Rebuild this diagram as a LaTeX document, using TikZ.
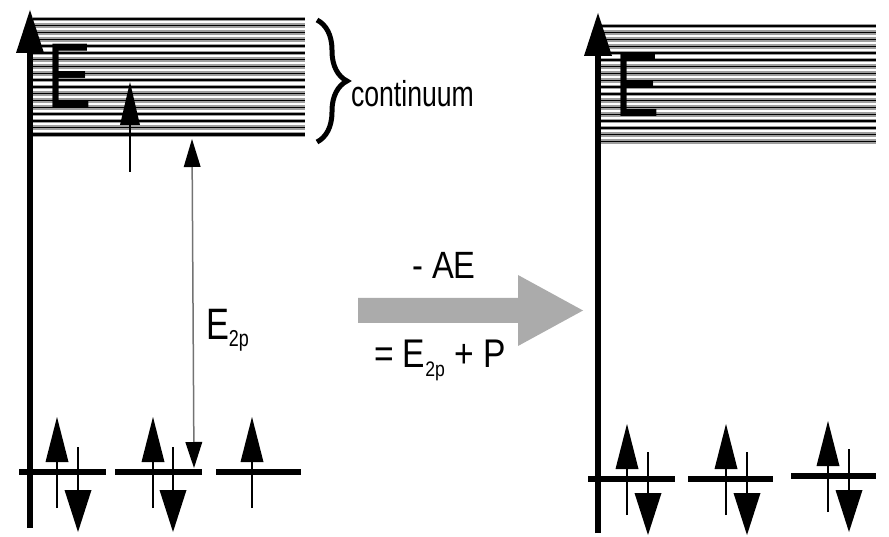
\documentclass[tikz,border=0pt]{standalone}
\usepackage{fontspec}
\usepackage{graphicx}
\setmainfont{Liberation Sans}
\usetikzlibrary{arrows.meta,decorations.pathreplacing}
\tikzset{
  axisline/.style={line width=6pt,-{Triangle[width=28pt,length=43pt,line width=0pt]}},
  levelbar/.style={line width=6pt},
  spinup/.style={line width=2pt,-{Triangle[width=23pt,length=45pt,line width=0pt]}},
  spindown/.style={line width=2pt,-{Triangle[width=27pt,length=42pt,line width=0pt]}},
  bandline/.style={line width=4.6pt,color=black!38},
  bandcore/.style={line width=1.4pt,color=black},
  thinarrow/.style={line width=2pt,-{Triangle[width=20pt,length=43pt,line width=0pt]}},
  gaparrow/.style={line width=1.5pt,draw=black!55,{Triangle[width=17pt,length=28pt,line width=0pt,color=black]}-{Triangle[width=17pt,length=26pt,line width=0pt,color=black]}},
  txt/.style={inner sep=0pt,outer sep=0pt,anchor=base west},
  bigE/.style={inner sep=0pt,outer sep=0pt,anchor=base west,font=\fontsize{92}{92}\selectfont},
}
\begin{document}
\begin{tikzpicture}[x=1pt,y=-1pt]
\useasboundingbox (0,0) rectangle (889,537);

% ---------------- left panel ----------------
\foreach \i in {0,...,17}{
  \draw[bandline] (33,{19+\i*6.8}) -- (305,{19+\i*6.8});
}
\foreach \i in {0,...,17}{
  \draw[bandcore] (33,{19+\i*6.8}) -- (305,{19+\i*6.8});
}
\draw[line width=3pt] (33,135) -- (305,135);
\node[bigE] (Eleft) at (47,108) {\scalebox{0.72}[1]{E}};

\coordinate (axLb) at (30,528);
\coordinate (axLt) at (30,10);
\draw[axisline] (axLb) -- (axLt);

% brace + label
\draw[line width=5pt,decorate,decoration={brace,amplitude=30pt}] (317,20) -- (317,142);
\node[txt] (cont) at (351,107) {\fontsize{36}{36}\selectfont\scalebox{0.74}[1]{continuum}};

% excitation arrow inside continuum
\coordinate (exb) at (130,172);
\coordinate (ext) at (130,82);
\draw[thinarrow] (exb) -- (ext);

% E2p gap arrow
\coordinate (gapt) at (192,139);
\coordinate (gapb) at (194,468);
\draw[gaparrow] (gapt) -- (gapb);
\node[txt] (E2p) at (206,340) {\fontsize{44}{44}\selectfont\scalebox{0.78}[1]{E\raisebox{-6pt}{\fontsize{23}{23}\selectfont 2p}}};

% levels
\coordinate (L1a) at (19,472); \coordinate (L1b) at (106,472);
\coordinate (L2a) at (115,472); \coordinate (L2b) at (202,472);
\coordinate (L3a) at (216,472); \coordinate (L3b) at (301,472);
\draw[levelbar] (L1a) -- (L1b);
\draw[levelbar] (L2a) -- (L2b);
\draw[levelbar] (L3a) -- (L3b);

\foreach \x/\n in {57/a,153/b,252/c}{
  \coordinate (lu\n b) at (\x,508);
  \coordinate (lu\n t) at (\x,417);
  \draw[spinup] (lu\n b) -- (lu\n t);
}
\foreach \x/\n in {78/a,173/b}{
  \coordinate (ld\n t) at (\x,447);
  \coordinate (ld\n b) at (\x,532);
  \draw[spindown] (ld\n t) -- (ld\n b);
}

% ---------------- middle arrow ----------------
\fill[black!33] (358,298) -- (518,298) -- (518,275) -- (583,310.5) -- (518,346) -- (518,323) -- (358,323) -- cycle;
\node[inner sep=0pt,anchor=base] (AE) at (444,279) {\fontsize{38}{38}\selectfont\scalebox{0.86}[1]{- AE}};
\node[txt] (eq) at (374,367) {\fontsize{40}{40}\selectfont\scalebox{0.84}[1]{= E\raisebox{-9pt}{\fontsize{21}{21}\selectfont 2p} + P}};

% ---------------- right panel ----------------
\foreach \i in {0,...,17}{
  \draw[bandline] (601,{26+\i*6.8}) -- (876,{26+\i*6.8});
}
\foreach \i in {0,...,17}{
  \draw[bandcore] (601,{26+\i*6.8}) -- (876,{26+\i*6.8});
}
\node[bigE] (Eright) at (615,117) {\scalebox{0.72}[1]{E}};

\coordinate (axRb) at (598,533);
\coordinate (axRt) at (598,13);
\draw[axisline] (axRb) -- (axRt);

\coordinate (R1a) at (588,479); \coordinate (R1b) at (675,479);
\coordinate (R2a) at (688,479); \coordinate (R2b) at (773,479);
\coordinate (R3a) at (791,476); \coordinate (R3b) at (876,476);
\draw[levelbar] (R1a) -- (R1b);
\draw[levelbar] (R2a) -- (R2b);
\draw[levelbar] (R3a) -- (R3b);

\foreach \x/\y/\n in {627/0/a,726/0/b,828/-3/c}{
  \coordinate (ru\n b) at (\x,{515+\y});
  \coordinate (ru\n t) at (\x,{424+\y});
  \draw[spinup] (ru\n b) -- (ru\n t);
}
\foreach \x/\y/\n in {648/0/a,747/0/b,849/-3/c}{
  \coordinate (rd\n t) at (\x,{452+\y});
  \coordinate (rd\n b) at (\x,{535+\y});
  \draw[spindown] (rd\n t) -- (rd\n b);
}
\end{tikzpicture}
\end{document}
